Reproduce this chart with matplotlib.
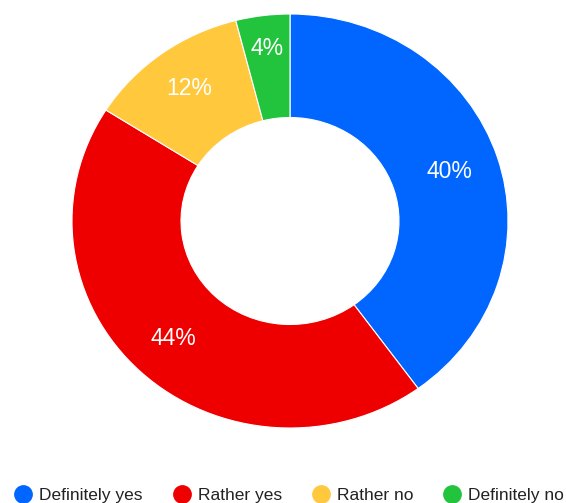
import matplotlib
matplotlib.use('Agg')
import matplotlib.pyplot as plt
import numpy as np
from matplotlib.lines import Line2D

plt.rcParams['font.family'] = ['Liberation Sans', 'DejaVu Sans']

labels = ['Definitely yes', 'Rather yes', 'Rather no', 'Definitely no']
values = [40, 44, 12, 4]
colors = ['#0066ff', '#ee0000', '#ffc83d', '#22c43d']

W, H = 566, 503
fig = plt.figure(figsize=(W/100, H/100), dpi=100)
# donut is slightly wider than tall in the reference
ax = fig.add_axes([72/W, 75/H, 436/W, 414/H])
wedges, texts, autotexts = ax.pie(values, colors=colors, startangle=90, counterclock=False,
                                  radius=1.0, autopct='%d%%', pctdistance=0.77,
                                  wedgeprops=dict(width=0.5, edgecolor='white', linewidth=0.8),
                                  textprops=dict(color='white', fontsize=16.5))
ax.set_aspect('auto')
ax.set_xlim(-1, 1)
ax.set_ylim(-1, 1)

# nudge label distances a little, like the original renderer does
label_dist = [0.77, 0.78, 0.79, 0.84]
for w, t, d in zip(wedges, autotexts, label_dist):
    ang = np.deg2rad((w.theta1 + w.theta2) / 2)
    t.set_position((d*np.cos(ang), d*np.sin(ang)))

#legend along the bottom, placed by hand
marker_x = [23, 182, 321, 452]
leg_y = (H - 494) / H
for mx, lab, c in zip(marker_x, labels, colors):
    fig.add_artist(Line2D([mx/W], [leg_y], marker='o', linestyle='', markersize=12.5,
                          color=c, transform=fig.transFigure))
    fig.text((mx + 16)/W, leg_y, lab, fontsize=12.5, color='#222222',
             va='center_baseline', ha='left')

fig.savefig('out.png', dpi=100)
